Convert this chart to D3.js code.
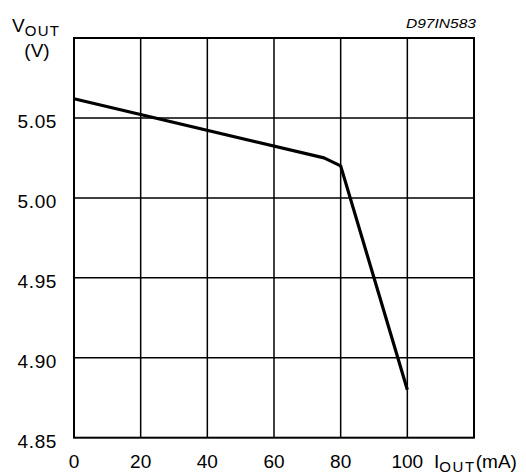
<!DOCTYPE html>
<html><head><meta charset="utf-8">
<script src="https://cdn.jsdelivr.net/npm/d3@7/dist/d3.min.js"></script>
<style>body{margin:0;background:#fff}svg text{font-family:"Liberation Sans",Arial,sans-serif;fill:#000}</style>
</head><body><svg id="c" width="526" height="474"></svg>
<script>
const iout = [0, 75, 80, 100];
const vout = [5.062, 5.025, 5.020, 4.880];
const xTicks = [0, 20, 40, 60, 80, 100, 120];
const xTickLabels = ["0", "20", "40", "60", "80", "100", ""];
const yTicks = [4.85, 4.90, 4.95, 5.00, 5.05, 5.10];
const yTickLabels = ["4.85", "4.90", "4.95", "5.00", "5.05", ""];

const svg = d3.select("#c");
const L = 74, R = 474, T = 38, B = 437.7;
const x = d3.scaleLinear().domain([0, 120]).range([L, R]);
const y = d3.scaleLinear().domain([4.85, 5.10]).range([B, T]);

// grid
svg.append("g").selectAll("line").data(xTicks.slice(1, -1)).join("line")
  .attr("x1", d => x(d)).attr("x2", d => x(d)).attr("y1", T).attr("y2", B)
  .attr("stroke", "#000").attr("stroke-width", 1.5);
svg.append("g").selectAll("line").data(yTicks.slice(1, -1)).join("line")
  .attr("y1", d => y(d)).attr("y2", d => y(d)).attr("x1", L).attr("x2", R)
  .attr("stroke", "#000").attr("stroke-width", 1.5);
svg.append("rect").attr("x", L).attr("y", T).attr("width", R - L).attr("height", B - T)
  .attr("fill", "none").attr("stroke", "#000").attr("stroke-width", 2);

// tick labels
svg.append("g").selectAll("text").data(xTicks).join("text")
  .attr("x", d => x(d)).attr("y", 468).attr("text-anchor", "middle")
  .attr("font-size", 19).text((d, i) => xTickLabels[i]);
svg.append("g").selectAll("text").data(yTicks).join("text")
  .attr("x", 57).attr("y", d => y(d) + 10).attr("text-anchor", "end")
  .attr("font-size", 19).attr("letter-spacing", 0.6).text((d, i) => yTickLabels[i]);

// curve
const pts = iout.map((d, i) => [d, vout[i]]);
svg.append("path").datum(pts)
  .attr("d", d3.line().x(d => x(d[0])).y(d => y(d[1])))
  .attr("fill", "none").attr("stroke", "#000").attr("stroke-width", 3.2)
  .attr("stroke-linejoin", "round");

// axis titles
const yt = svg.append("text").attr("x", 12).attr("y", 32).attr("font-size", 19);
yt.append("tspan").text("V");
yt.append("tspan").attr("font-size", 15).attr("letter-spacing", 1.3).attr("dy", 4).text("OUT");
svg.append("text").attr("x", 37).attr("y", 57).attr("text-anchor", "middle").attr("font-size", 19).text("(V)");

const xt = svg.append("text").attr("x", 434).attr("y", 468).attr("font-size", 19);
xt.append("tspan").text("I");
xt.append("tspan").attr("font-size", 15).attr("letter-spacing", 1.6).attr("dy", 4).text("OUT");
xt.append("tspan").attr("dy", -4).text("(mA)");

svg.append("text").attr("x", 476).attr("y", 28).attr("text-anchor", "end")
  .attr("font-size", 13).attr("font-style", "italic")
  .attr("textLength", 70).attr("lengthAdjust", "spacingAndGlyphs").text("D97IN583");
</script></body></html>
